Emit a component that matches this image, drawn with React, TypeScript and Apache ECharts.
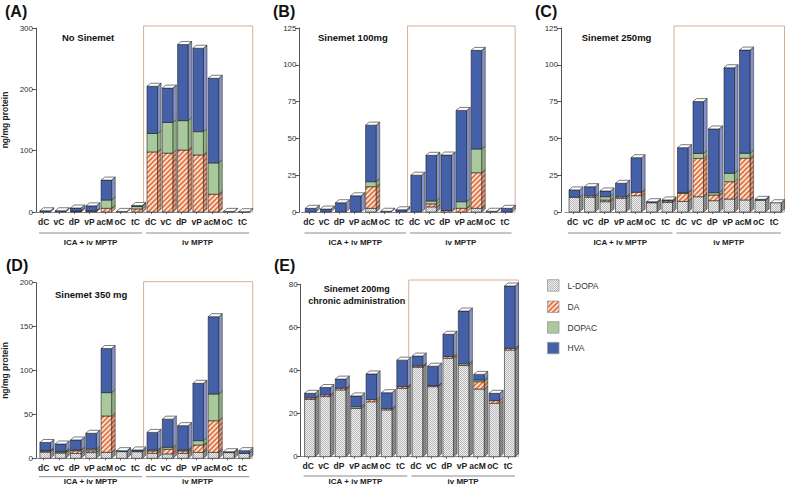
import React, { useEffect, useRef } from 'react';
import * as echarts from 'echarts';

const FONT = "'Liberation Sans', Arial, Helvetica, sans-serif";

const categories = ['dC', 'vC', 'dP', 'vP', 'acM', 'oC', 'tC', 'dC', 'vC', 'dP', 'vP', 'acM', 'oC', 'tC'];
const groupLabels = ['ICA + iv MPTP', 'iv MPTP'];
const compounds = ['L-DOPA', 'DA', 'DOPAC', 'HVA'];
const panelLetters = ['(A)', '(B)', '(C)', '(D)', '(E)'];
const panelTitles = ['No Sinemet', 'Sinemet 100mg', 'Sinemet 250mg', 'Sinemet 350 mg', 'Sinemet 200mg\nchronic administration'];
const yMax = [300, 125, 125, 200, 80];
const yStep = [100, 25, 25, 50, 20];
const yAxisName = 'ng/mg protein';

// (A) No Sinemet
const aLdopa = [0, 0, 0, 0, 0, 0, 0, 0, 0, 0, 0, 0, 0, 0];
const aDa = [0, 0, 1, 1, 6, 0, 5, 98, 96, 101, 93, 29, 0, 0];
const aDopac = [0, 0, 0.5, 1, 13.5, 0, 4, 30, 50, 48, 38, 51, 0, 0];
const aHva = [2, 2, 5, 8, 32.5, 1, 1.5, 77, 56, 124, 136, 138, 1, 0.5];
// (B) Sinemet 100mg
const bLdopa = [0, 0, 0, 0, 2.5, 0, 0, 0, 3.5, 0, 0, 2.5, 0, 0];
const bDa = [0, 0, 0, 0, 14.7, 0, 0, 0, 2, 1, 2.5, 24.2, 0, 0];
const bDopac = [0, 0, 0, 0, 3.4, 0, 0, 0, 2, 0, 4.5, 16.1, 0, 0];
const bHva = [2.5, 2, 6.3, 11, 38.4, 0.5, 1.5, 25, 31, 37.7, 62, 67, 0.5, 2.5];
// (C) Sinemet 250mg
const cLdopa = [10, 10, 7, 9.3, 11.1, 6.3, 6.5, 7.2, 10.4, 7.7, 8.8, 8.2, 8, 6.3];
const cDa = [0, 1, 1.1, 1, 2.3, 0, 1, 5.4, 26, 3.8, 11.8, 28.3, 0, 0];
const cDopac = [0, 0, 2.3, 0, 0, 0, 0, 0.7, 3.4, 1.6, 5.7, 3.4, 0, 0];
const cHva = [5, 6.2, 3.9, 9.2, 23.5, 0.7, 0.7, 30.4, 35.2, 43.3, 71.7, 70.1, 0.6, 0];
// (D) Sinemet 350 mg
const dLdopa = [7, 6, 5.5, 6.5, 6.8, 7.6, 7.5, 5.7, 5, 5.7, 6.8, 6.8, 6.5, 5.5];
const dDa = [1, 1, 3, 2, 41.4, 0, 0, 2.7, 5.3, 2.7, 8.3, 36, 0, 0];
const dDopac = [1, 1, 1, 2, 26.6, 0, 0, 1.1, 2.3, 1, 5, 30.4, 0, 0];
const dHva = [9, 8.3, 11.4, 18, 50.2, 1.1, 2, 20, 32, 27.8, 65.3, 88.1, 1, 3.2];
// (E) Sinemet 200mg chronic
const eLdopa = [26.6, 27.9, 31, 22.4, 25.5, 21.7, 31.7, 41.5, 32.5, 45.7, 42.3, 31.4, 24.8, 49.5];
const eDa = [0.7, 0.8, 0.8, 0, 1, 0.6, 0.8, 0.6, 0.5, 0.8, 0, 3.4, 1.2, 0.8];
const eDopac = [0, 0, 0, 0.8, 0, 0, 0, 0, 0, 0, 0.8, 0.8, 0, 0];
const eHva = [2.1, 3.4, 4.2, 5, 11.9, 7.4, 12.3, 4.6, 9, 10.3, 24.5, 2.6, 3.4, 28.9];

const panelData = [
  [aLdopa, aDa, aDopac, aHva],
  [bLdopa, bDa, bDopac, bHva],
  [cLdopa, cDa, cDopac, cHva],
  [dLdopa, dDa, dDopac, dHva],
  [eLdopa, eDa, eDopac, eHva],
];

// layout (pixels)
const LAYOUT = [
  { left: 36, top: 28, width: 214.2, height: 184, offset: 0, boxTop: 26, lineY: 233, groupY: 242, letter: [5, 11], title: [62, 37], yName: true },
  { left: 301.5, top: 28, width: 211.1, height: 184, offset: 2, boxTop: 26, lineY: 233, groupY: 242, letter: [273, 11], title: [318, 37], yName: false },
  { left: 565, top: 28, width: 217, height: 184, offset: 4, boxTop: 26, lineY: 233, groupY: 242, letter: [535, 11], title: [581.7, 37], yName: false },
  { left: 36, top: 282.7, width: 214.2, height: 175.6, offset: 0, boxTop: 281.7, lineY: 476.7, groupY: 481.5, letter: [6, 265], title: [55, 294], yName: true },
  { left: 300.6, top: 284.3, width: 215.3, height: 172.4, offset: 0, boxTop: 280, lineY: 476, groupY: 481.5, letter: [274, 265], title: [356.7, 295], yName: false },
];

const DX = 3.6;
const DY = 3;
const EDGE = '#222';

function makeCanvas(w: number, h: number, draw: (ctx: CanvasRenderingContext2D) => void) {
  const c = document.createElement('canvas');
  c.width = w;
  c.height = h;
  const ctx = c.getContext('2d') as CanvasRenderingContext2D;
  draw(ctx);
  return c;
}

function buildFills() {
  const ld = makeCanvas(2, 2, (ctx) => {
    ctx.fillStyle = '#efefef';
    ctx.fillRect(0, 0, 2, 2);
    ctx.fillStyle = '#b9b9b9';
    ctx.fillRect(0, 0, 1, 1);
    ctx.fillRect(1, 1, 1, 1);
  });
  const ldSide = makeCanvas(2, 2, (ctx) => {
    ctx.fillStyle = '#9a9a9a';
    ctx.fillRect(0, 0, 2, 2);
    ctx.fillStyle = '#7a7a7a';
    ctx.fillRect(0, 0, 1, 1);
    ctx.fillRect(1, 1, 1, 1);
  });
  const stripe = (bg: string, fg: string) =>
    makeCanvas(5, 5, (ctx) => {
      ctx.fillStyle = bg;
      ctx.fillRect(0, 0, 5, 5);
      ctx.strokeStyle = fg;
      ctx.lineWidth = 1.7;
      ctx.beginPath();
      ctx.moveTo(-1, 6);
      ctx.lineTo(6, -1);
      ctx.moveTo(-1, 1);
      ctx.lineTo(1, -1);
      ctx.moveTo(4, 6);
      ctx.lineTo(6, 4);
      ctx.stroke();
    });
  const da = stripe('#fbe3d6', '#e2723e');
  const daSide = stripe('#d9a690', '#b9603a');
  const pat = (c: HTMLCanvasElement) => ({ image: c, repeat: 'repeat', imageWidth: c.width, imageHeight: c.height });
  return {
    front: [pat(ld), pat(da), '#a9c99d', '#4360a8'],
    side: [pat(ldSide), pat(daSide), '#8daf82', '#8592c6'],
  };
}

export default function App() {
  const ref = useRef<HTMLDivElement>(null);

  useEffect(() => {
    if (!ref.current) return;
    const chart = echarts.init(ref.current, null, { renderer: 'svg' });
    const fills = buildFills();

    const renderItem = (params: any, api: any) => {
      const i = api.value(0);
      const vals = [api.value(1), api.value(2), api.value(3), api.value(4)];
      const base = api.coord([i, 0]);
      const cx = base[0];
      const w = 10.5;
      const x0 = cx - w / 2 + 1.5;
      const children: any[] = [];
      let cum = 0;
      let yPrev = base[1];
      for (let k = 0; k < 4; k++) {
        const v = vals[k];
        if (!(v > 0)) continue;
        cum += v;
        const y = api.coord([i, cum])[1];
        children.push({
          type: 'polygon',
          shape: { points: [[x0 + w, yPrev], [x0 + w + DX, yPrev - DY], [x0 + w + DX, y - DY], [x0 + w, y]] },
          style: { fill: fills.side[k], stroke: EDGE, lineWidth: 0.5 },
        });
        children.push({
          type: 'rect',
          shape: { x: x0, y: y, width: w, height: yPrev - y },
          style: { fill: fills.front[k], stroke: EDGE, lineWidth: 0.6 },
        });
        yPrev = y;
      }
      children.push({
        type: 'polygon',
        shape: { points: [[x0, yPrev], [x0 + DX, yPrev - DY], [x0 + w + DX, yPrev - DY], [x0 + w, yPrev]] },
        style: { fill: '#ffffff', stroke: EDGE, lineWidth: 0.6 },
      });
      return { type: 'group', children };
    };

    const graphic: any[] = [];
    LAYOUT.forEach((l, p) => {
      const bw = l.width / categories.length;
      const split = l.left + 7 * bw;
      const bottom = l.top + l.height;
      graphic.push({
        type: 'rect', z: 0, silent: true,
        shape: { x: split + 0.5, y: l.boxTop, width: l.left + l.width + 2.5 - (split + 0.5), height: bottom - l.boxTop },
        style: { fill: 'none', stroke: '#d6ae96', lineWidth: 1 },
      });
      const segs = [[l.left + 3, split - 1], [split + 3, l.left + l.width - 1]];
      segs.forEach((s, g) => {
        graphic.push({ type: 'line', silent: true, shape: { x1: s[0], y1: l.lineY, x2: s[1], y2: l.lineY }, style: { stroke: '#8a8a8a', lineWidth: 1 } });
        graphic.push({
          type: 'text', silent: true, x: (s[0] + s[1]) / 2, y: l.groupY,
          style: { text: groupLabels[g], fontSize: 8, fontWeight: 'bold', fontFamily: FONT, fill: '#222', align: 'center', verticalAlign: 'middle', textAlign: 'center', textVerticalAlign: 'middle' },
        });
      });
      graphic.push({
        type: 'text', silent: true, x: l.letter[0], y: l.letter[1],
        style: { text: panelLetters[p], fontSize: 16, fontWeight: 'bold', fontFamily: FONT, fill: '#111', align: 'left', verticalAlign: 'middle', textAlign: 'left', textVerticalAlign: 'middle' },
      });
      const centered = p === 4;
      graphic.push({
        type: 'text', silent: true, x: l.title[0], y: l.title[1],
        style: {
          text: panelTitles[p], fontSize: centered ? 9 : 9.5, fontWeight: 'bold', fontFamily: FONT, fill: '#111', lineHeight: 12,
          align: centered ? 'center' : 'left', verticalAlign: 'middle', textAlign: centered ? 'center' : 'left', textVerticalAlign: 'middle',
        },
      });
    });
    const legendY = [285.7, 307, 327.7, 348.3];
    compounds.forEach((c, k) => {
      graphic.push({
        type: 'rect', silent: true, shape: { x: 547.5, y: legendY[k] - 6, width: 11.5, height: 11.5 },
        style: { fill: fills.front[k], stroke: '#9a9a9a', lineWidth: 0.8 },
      });
      graphic.push({
        type: 'text', silent: true, x: 567.5, y: legendY[k],
        style: { text: c, fontSize: 8.5, fontFamily: FONT, fill: '#333', align: 'left', verticalAlign: 'middle', textAlign: 'left', textVerticalAlign: 'middle' },
      });
    });

    const option: any = {
      animation: false,
      backgroundColor: '#ffffff',
      grid: LAYOUT.map((l) => ({ left: l.left, top: l.top, width: l.width, height: l.height, containLabel: false, outerBoundsMode: 'none' })),
      xAxis: LAYOUT.map((l, p) => ({
        type: 'category', gridIndex: p, data: categories, boundaryGap: true,
        axisLine: { show: true, lineStyle: { color: '#8a8a8a', width: 1 } },
        axisTick: { show: true, alignWithLabel: true, length: 2, lineStyle: { color: '#666' } },
        axisLabel: { interval: 0, fontSize: 8.5, fontWeight: 'bold', color: '#222', fontFamily: FONT, margin: 5 },
        splitLine: { show: false },
      })),
      yAxis: LAYOUT.map((l, p) => ({
        type: 'value', gridIndex: p, min: 0, max: yMax[p], interval: yStep[p], offset: l.offset,
        name: l.yName ? yAxisName : '', nameLocation: 'middle', nameGap: 27,
        nameTextStyle: { fontSize: 8.5, fontWeight: 'bold', color: '#222', fontFamily: FONT },
        axisLine: { show: true, lineStyle: { color: '#555', width: 1 } },
        axisTick: { show: true, length: 4, lineStyle: { color: '#555' } },
        axisLabel: { fontSize: 8, color: '#333', margin: 3, fontFamily: FONT },
        splitLine: { show: false },
      })),
      series: panelData.map((d, p) => ({
        type: 'custom', xAxisIndex: p, yAxisIndex: p, coordinateSystem: 'cartesian2d', clip: false, silent: true,
        renderItem, encode: { x: 0, y: 1 },
        data: categories.map((_, i) => [i, d[0][i], d[1][i], d[2][i], d[3][i]]),
      })),
      graphic,
    };
    chart.setOption(option);
    return () => chart.dispose();
  }, []);

  return <div ref={ref} style={{ position: 'fixed', left: 0, top: 0, width: 786, height: 486, background: '#fff' }} />;
}
